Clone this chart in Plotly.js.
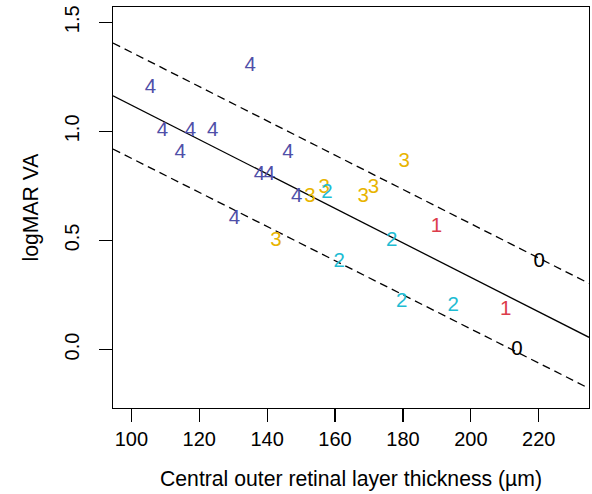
<!DOCTYPE html>
<html>
<head>
<meta charset="utf-8">
<script src="https://cdn.plot.ly/plotly-3.0.1.min.js"></script>
<style>
  html, body { margin: 0; padding: 0; background: #ffffff; }
  #chart { width: 592px; height: 494px; }
</style>
</head>
<body>
<div id="chart"></div>
<script>
// Data
const thickness = [105.6, 135.0, 109.2, 117.4, 124.0, 114.4, 146.1, 137.7, 140.7, 148.7, 130.4,
                   142.6, 152.6, 156.8, 157.6, 168.3, 171.3, 180.4, 189.9, 176.7, 161.2,
                   179.6, 194.8, 210.3, 220.1, 213.6];
const logmar = [1.20, 1.30, 1.00, 1.00, 1.00, 0.90, 0.90, 0.80, 0.80, 0.70, 0.60,
                0.50, 0.70, 0.74, 0.72, 0.70, 0.74, 0.86, 0.56, 0.50, 0.40,
                0.22, 0.20, 0.18, 0.40, 0.00];
const grade = [4, 4, 4, 4, 4, 4, 4, 4, 4, 4, 4,
               3, 3, 3, 2, 3, 3, 3, 1, 2, 2,
               2, 2, 1, 0, 0];
const gradeColors = ["#000000", "#DC3C4B", "#1EBCD3", "#E8B400", "#4F4FA8"];

// Regression line and band, endpoints at the axis limits
const lineX = [94.6, 234.8];
const fitY = [1.163, 0.056];
const upperY = [1.405, 0.303];
const lowerY = [0.919, -0.178];

const xTicks = [100, 120, 140, 160, 180, 200, 220];
const yTicks = [0.0, 0.5, 1.0, 1.5];

const FONT = "Liberation Sans, Arial, Helvetica, sans-serif";

const traces = [
  { x: lineX, y: fitY, mode: "lines", line: { color: "#000000", width: 1.3 }, hoverinfo: "skip", showlegend: false },
  { x: lineX, y: upperY, mode: "lines", line: { color: "#000000", width: 1.3, dash: "8px,5px" }, hoverinfo: "skip", showlegend: false },
  { x: lineX, y: lowerY, mode: "lines", line: { color: "#000000", width: 1.3, dash: "8px,5px" }, hoverinfo: "skip", showlegend: false },
  {
    x: thickness, y: logmar, mode: "text",
    text: grade.map(String),
    textposition: "middle center",
    textfont: { family: FONT, size: 20.5, color: grade.map(g => gradeColors[g]) },
    hoverinfo: "skip", showlegend: false
  }
];

const layout = {
  width: 592, height: 494,
  margin: { l: 113, r: 3, t: 7, b: 86, pad: 0 },
  paper_bgcolor: "#ffffff", plot_bgcolor: "#ffffff",
  font: { family: FONT, size: 20, color: "#000000" },
  showlegend: false,
  xaxis: {
    range: [94.6, 234.8],
    tickvals: xTicks,
    ticktext: xTicks.map(String),
    ticks: "outside", ticklen: 13, tickwidth: 1.2, tickcolor: "#000000",
    showline: true, mirror: true, linecolor: "#000000", linewidth: 1.3,
    showgrid: false, zeroline: false,
    tickfont: { family: FONT, size: 20, color: "#000000" },
    title: { text: "Central outer retinal layer thickness (µm)", font: { family: FONT, size: 21.2, color: "#000000" }, standoff: 22 },
    automargin: false
  },
  yaxis: {
    range: [-0.268, 1.570],
    tickvals: yTicks,
    ticktext: yTicks.map(v => v.toFixed(1)),
    tickangle: -90,
    ticks: "outside", ticklen: 13, tickwidth: 1.2, tickcolor: "#000000",
    showline: true, mirror: true, linecolor: "#000000", linewidth: 1.3,
    showgrid: false, zeroline: false,
    ticklabelstandoff: 12,
    tickfont: { family: FONT, size: 20, color: "#000000" },
    title: { text: "logMAR VA", font: { family: FONT, size: 21.2, color: "#000000" }, standoff: 16 },
    automargin: false
  },
  hovermode: false
};

Plotly.newPlot("chart", traces, layout, { displayModeBar: false, staticPlot: true });
</script>
</body>
</html>
